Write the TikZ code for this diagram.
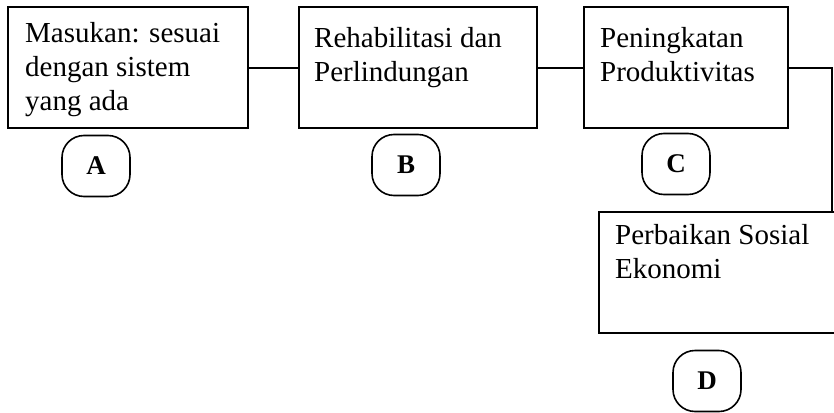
\documentclass[tikz,border=0pt]{standalone}
\usepackage{fontspec}
\setmainfont{Liberation Serif}
\usetikzlibrary{positioning}

\tikzset{
  box/.style={draw, line width=2pt, anchor=north west, minimum height=121pt},
  boxtext/.style={anchor=north west, inner sep=0pt, align=left,
                  font=\fontsize{29}{34}\selectfont},
  tag/.style={draw, line width=1.6pt, rounded corners=22pt, minimum width=68pt,
              minimum height=61pt, font=\fontsize{27}{30}\selectfont\bfseries},
  link/.style={line width=2pt}
}

\begin{document}
\begin{tikzpicture}[x=1pt, y=-1pt]
  \useasboundingbox (0,0) rectangle (834,412);

  % boxes
  \node[box, minimum width=240pt] (masukan) at (7,6) {};
  \node[box, minimum width=238pt] (rehab) at (298,6) {};
  \node[box, minimum width=204pt] (produk) at (583,6) {};
  \node[box, minimum width=244pt] (sosek) at (598,211) {};

  % texts
  \node[boxtext] (masukanT) at ([xshift=18pt, yshift=-16pt]masukan.north west)
    {Masukan: sesuai\\dengan sistem\\yang ada};
  \node[boxtext] (rehabT) at ([xshift=16pt, yshift=-21pt]rehab.north west)
    {Rehabilitasi dan\\Perlindungan};
  \node[boxtext] (produkT) at ([xshift=17pt, yshift=-21pt]produk.north west)
    {Peningkatan\\Produktivitas};
  \node[boxtext] (sosekT) at ([xshift=17pt, yshift=-13pt]sosek.north west)
    {Perbaikan Sosial\\Ekonomi};

  % tags
  \node[tag] (tagA) at (96,166) {A};
  \node[tag] (tagB) at (406,165) {B};
  \node[tag] (tagC) at (676,164) {C};
  \node[tag] (tagD) at (707,381) {D};

  % connectors
  \coordinate (bend) at (832,211);
  \draw[link] (masukan.east) -- (rehab.west);
  \draw[link] (rehab.east) -- (produk.west);
  \draw[link] (produk.east) -| (bend);
\end{tikzpicture}
\end{document}
